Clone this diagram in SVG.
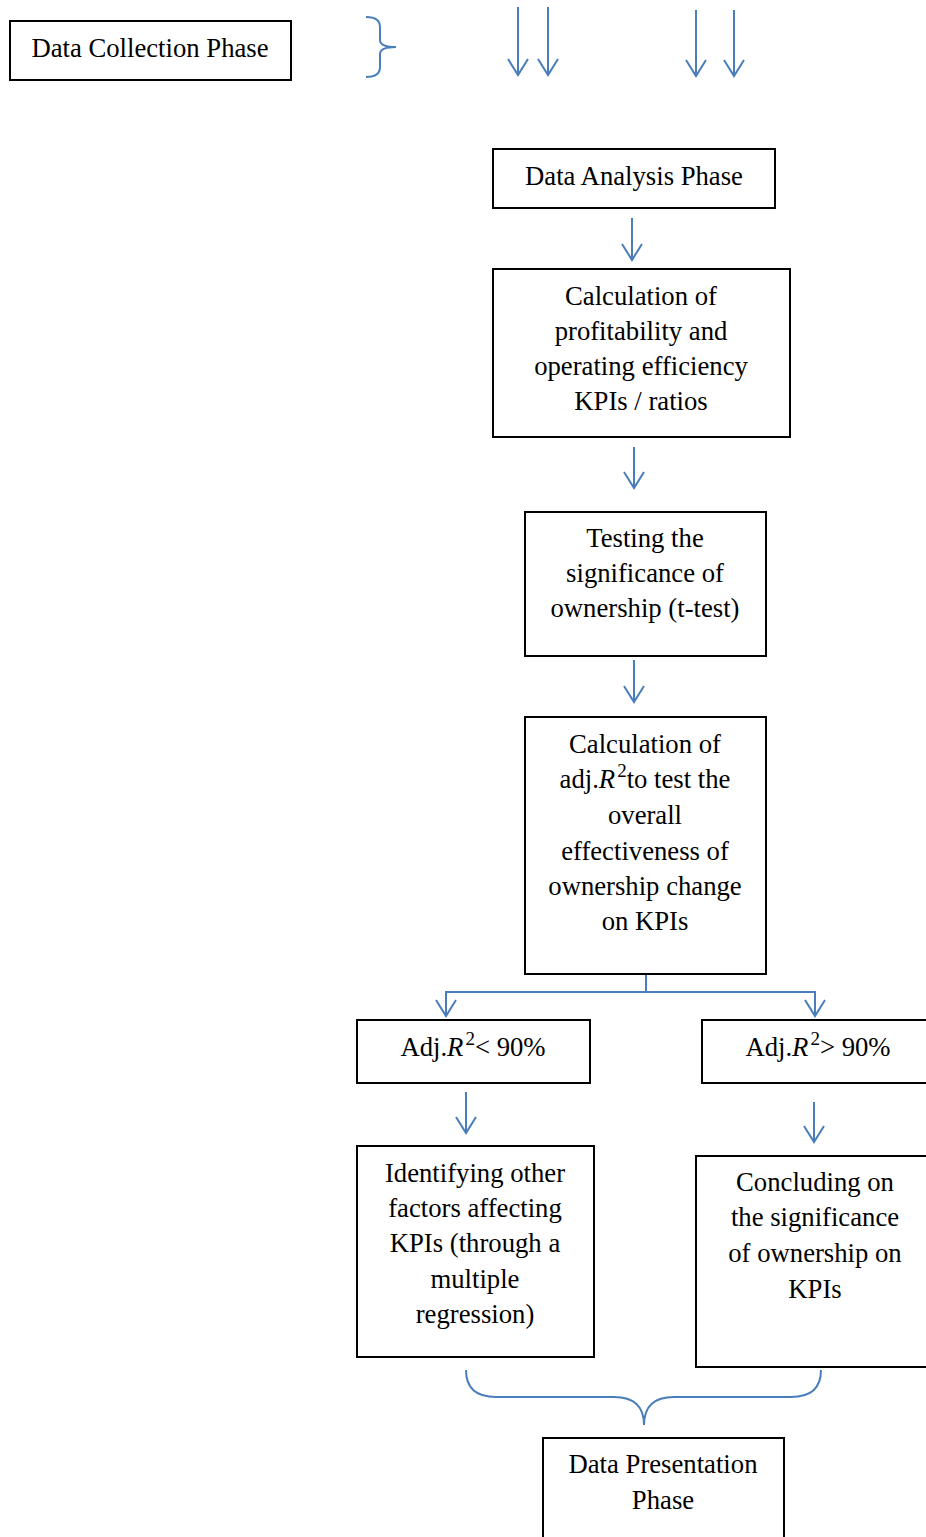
<svg xmlns="http://www.w3.org/2000/svg" width="926" height="1537" viewBox="0 0 926 1537">
<style>
.box{fill:#fff;stroke:#000;stroke-width:2}
.t{font-family:"Liberation Serif","Times New Roman",serif;font-size:26.7px;fill:#000;text-anchor:middle}
.c{fill:none;stroke:#4a7ebb;stroke-width:2}
.i{font-style:italic}
.sup{font-size:19px}
</style>
<defs>
<marker id="ah" viewBox="0 0 20 22" refX="18" refY="11" markerWidth="20" markerHeight="22" markerUnits="userSpaceOnUse" orient="auto-start-reverse">
<path d="M2,1 L18,11 L2,21" fill="none" stroke="#4a7ebb" stroke-width="2"/>
</marker>
</defs>
<rect width="926" height="1537" fill="#fff"/>
<g id="connectors">
<path class="c" d="M366,17 Q380,17 380,27 L380,40 Q380,47 396,47 Q380,47 380,54 L380,67 Q380,77 366,77"/>
<line class="c" x1="518" y1="7" x2="518" y2="75" marker-end="url(#ah)"/>
<line class="c" x1="548" y1="7" x2="548" y2="75" marker-end="url(#ah)"/>
<line class="c" x1="696" y1="10" x2="696" y2="76" marker-end="url(#ah)"/>
<line class="c" x1="734" y1="10" x2="734" y2="76" marker-end="url(#ah)"/>
<line class="c" x1="632" y1="218" x2="632" y2="260" marker-end="url(#ah)"/>
<line class="c" x1="634" y1="447" x2="634" y2="488" marker-end="url(#ah)"/>
<line class="c" x1="634" y1="660" x2="634" y2="702" marker-end="url(#ah)"/>
<line class="c" x1="646" y1="974" x2="646" y2="992"/>
<path class="c" d="M446,1016 L446,992 L815,992 L815,1016" marker-start="url(#ah)" marker-end="url(#ah)"/>
<line class="c" x1="466" y1="1092" x2="466" y2="1133" marker-end="url(#ah)"/>
<line class="c" x1="814" y1="1102" x2="814" y2="1142" marker-end="url(#ah)"/>
<path class="c" d="M466,1370 Q466,1397 496,1397 L614,1397 Q644,1397 644,1425 Q644,1397 674,1397 L791,1397 Q821,1397 821,1370"/>
</g>
<g id="data-collection">
<rect class="box" x="10" y="21" width="281" height="59"/>
<text class="t" x="150" y="57">Data Collection Phase</text>
</g>
<g id="data-analysis">
<rect class="box" x="493" y="149" width="282" height="59"/>
<text class="t" x="634" y="185">Data Analysis Phase</text>
</g>
<g id="calc-kpis">
<rect class="box" x="493" y="269" width="297" height="168"/>
<text class="t" x="641" y="305">Calculation of</text>
<text class="t" x="641" y="340">profitability and</text>
<text class="t" x="641" y="375">operating efficiency</text>
<text class="t" x="641" y="410">KPIs / ratios</text>
</g>
<g id="testing">
<rect class="box" x="525" y="512" width="241" height="144"/>
<text class="t" x="645" y="547">Testing the</text>
<text class="t" x="645" y="582">significance of</text>
<text class="t" x="645" y="617">ownership (t-test)</text>
</g>
<g id="calc-adj">
<rect class="box" x="525" y="717" width="241" height="257"/>
<text class="t" x="645" y="753">Calculation of</text>
<text class="t" x="645" y="788">adj.<tspan class="i">R</tspan><tspan class="sup" dx="2" dy="-11">2</tspan><tspan dy="11">to test the</tspan></text>
<text class="t" x="645" y="824">overall</text>
<text class="t" x="645" y="860">effectiveness of</text>
<text class="t" x="645" y="895">ownership change</text>
<text class="t" x="645" y="930">on KPIs</text>
</g>
<g id="adj-less">
<rect class="box" x="357" y="1020" width="233" height="63"/>
<text class="t" x="473" y="1056">Adj.<tspan class="i">R</tspan><tspan class="sup" dx="2" dy="-11">2</tspan><tspan dy="11">&lt; 90%</tspan></text>
</g>
<g id="adj-greater">
<rect class="box" x="702" y="1020" width="240" height="63"/>
<text class="t" x="818" y="1056">Adj.<tspan class="i">R</tspan><tspan class="sup" dx="2" dy="-11">2</tspan><tspan dy="11">&gt; 90%</tspan></text>
</g>
<g id="identifying">
<rect class="box" x="357" y="1146" width="237" height="211"/>
<text class="t" x="475" y="1182">Identifying other</text>
<text class="t" x="475" y="1217">factors affecting</text>
<text class="t" x="475" y="1252">KPIs (through a</text>
<text class="t" x="475" y="1288">multiple</text>
<text class="t" x="475" y="1323">regression)</text>
</g>
<g id="concluding">
<rect class="box" x="696" y="1156" width="246" height="211"/>
<text class="t" x="815" y="1191">Concluding on</text>
<text class="t" x="815" y="1226">the significance</text>
<text class="t" x="815" y="1262">of ownership on</text>
<text class="t" x="815" y="1298">KPIs</text>
</g>
<g id="data-presentation">
<rect class="box" x="543" y="1438" width="241" height="110"/>
<text class="t" x="663" y="1473">Data Presentation</text>
<text class="t" x="663" y="1509">Phase</text>
</g>
</svg>
